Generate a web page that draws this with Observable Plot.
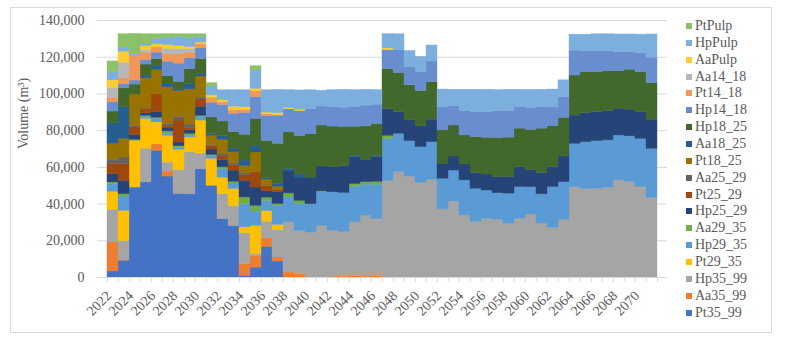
<!DOCTYPE html>
<html><head><meta charset="utf-8">
<script src="https://cdn.jsdelivr.net/npm/d3@7"></script>
<script src="https://cdn.jsdelivr.net/npm/@observablehq/plot@0.6"></script>
<style>
body{margin:0;background:#fff;}
#wrap{position:relative;width:787px;height:344px;overflow:hidden;font-family:'Liberation Serif','Times New Roman',serif;}
#border{position:absolute;left:10px;top:7px;width:762px;height:326px;border:1px solid #d9d9d9;box-sizing:border-box;}
#wrap svg{position:absolute;left:0;top:0;}
.leg{position:absolute;left:686px;height:17px;display:flex;align-items:center;font-size:14px;color:#595959;white-space:nowrap;}
.leg i{display:inline-block;width:6px;height:6px;margin-right:3px;}
</style></head><body><div id="wrap"><div id="border"></div></div>
<script>
const years = [2022,2023,2024,2025,2026,2027,2028,2029,2030,2031,
  2032,2033,2034,2035,2036,2037,2038,2039,2040,2041,
  2042,2043,2044,2045,2046,2047,2048,2049,2050,2051,
  2052,2053,2054,2055,2056,2057,2058,2059,2060,2061,
  2062,2063,2064,2065,2066,2067,2068,2069,2070,2071];
const tickYears = [2022,2024,2026,2028,2030,2032,2034,2036,2038,2040,2042,2044,2046,2048,2050,2052,2054,2056,2058,2060,2062,2064,2066,2068,2070];
const yTicks = [0,20000,40000,60000,80000,100000,120000,140000];

// stack order: bottom first
const seriesNames = ["Pt35_99","Aa35_99","Hp35_99","Pt29_35","Hp29_35","Aa29_35","Hp25_29","Pt25_29","Aa25_29","Pt18_25","Aa18_25","Hp18_25","Hp14_18","Pt14_18","Aa14_18","AaPulp","HpPulp","PtPulp"];
const colors = ["#4472C4","#ED7D31","#A5A5A5","#FFC000","#5B9BD5","#70AD47","#264478","#9E480E","#636363","#997300","#255E91","#43682B","#698ED0","#F1975A","#B7B7B7","#FFCD33","#7CAFDD","#8CC168"];

const Pt35_99 = [3300,9100,49000,51800,69000,55000,45500,45300,59000,50000,
  31800,28000,900,5400,16700,8700,0,0,0,0,
  0,0,0,0,0,0,0,0,0,0, 0,0,0,0,0,0,0,0,0,0, 0,0,0,0,0,0,0,0,0,0];
const Aa35_99 = [15800,300,0,0,3500,2700,0,0,0,0,
  0,0,6400,6400,4700,2200,2700,1800,0,0,
  500,500,900,500,900,0,0,0,0,0,
  0,0,0,0,0,0,0,0,0,0, 0,0,0,0,0,0,0,0,0,0];
const Hp35_99 = [17800,10500,0,18400,0,4900,13000,23000,8500,0,
  13600,10900,16700,900,9000,14900,27300,23600,24500,28200,
  25000,24200,29100,33200,30900,52700,57400,55000,51600,53200,
  37100,41400,33800,30200,32000,31400,29300,32000,34300,29300,
  27100,31400,49200,48300,48300,48900,52900,52000,49200,43200];
const Pt29_35 = [9800,16400,25500,16300,12000,14500,11000,8000,18000,14700,
  9000,9300,3300,15400,5800,2900,0,0,0,0,
  0,0,0,0,0,0,0,0,0,0, 0,0,0,0,0,0,0,0,0,0, 0,0,0,0,0,0,0,0,0,0];
const Hp29_35 = [4200,7800,0,1000,2000,1000,1000,1000,2000,1500,
  4600,3000,12700,7800,5500,10400,13600,14500,15400,18200,
  20900,21300,19400,16900,18700,22700,20900,19300,19400,20500,
  16700,16900,19100,18200,15400,14500,16400,17300,14900,16000,
  22200,20500,23600,25400,26000,25800,24500,24900,26300,26900];
const Aa29_35 = [900,1300,500,500,500,1500,1000,1000,500,500,
  1000,1000,3600,3100,1800,900,2200,1800,0,500,
  0,0,1500,1300,1600,1800,0,0,0,0,
  0,0,0,0,0,0,0,0,0,0, 0,0,0,0,0,0,0,0,0,0];
const Hp25_29 = [4600,7300,2500,1500,3000,2000,2000,2000,5000,3000,
  4000,6000,9100,10000,3600,6400,12000,12700,14500,13600,
  13600,14700,14500,12200,13300,14500,11800,11300,11300,12200,
  8200,7600,8700,8500,8700,8700,9100,10900,9400,11600,
  10900,14000,15400,15800,15800,16000,14500,14500,14500,15800];
const Pt25_29 = [5500,9100,4500,2000,10000,1000,12000,1000,4000,2000,
  2000,3000,3000,8200,2700,1300,0,0,0,0,
  0,0,0,0,0,0,0,0,0,0, 0,0,0,0,0,0,0,0,0,0, 0,0,0,0,0,0,0,0,0,0];
const Aa25_29 = [2200,3600,700,500,0,1000,2000,2000,1000,500,
  1000,1000,1000,0,0,0,0,0,0,0,
  0,0,0,0,0,0,0,0,0,0, 0,0,0,0,0,0,0,0,0,0, 0,0,0,0,0,0,0,0,0,0];
const Pt18_25 = [8700,10200,16900,16500,13000,20000,14000,19200,11500,5000,
  8000,6000,4000,10900,3600,1800,0,0,0,0,
  0,0,0,0,0,0,0,0,0,0, 0,0,0,0,0,0,0,0,0,0, 0,0,0,0,0,0,0,0,0,0];
const Aa18_25 = [11200,17400,0,1500,2000,2000,1000,3000,1500,1000,
  2000,2000,3000,3700,900,1500,1300,1800,0,0,
  0,0,900,0,900,0,0,0,0,0,
  0,0,0,0,0,0,0,0,0,0, 0,0,0,0,0,0,0,0,0,0];
const Hp18_25 = [6400,10000,5500,6000,4000,4000,4000,8000,8000,9000,
  8000,9000,14000,14600,20100,21800,20000,20900,23600,22300,
  22200,21300,15800,18200,17300,21800,21300,19100,19300,20500,
  18200,16900,15800,19600,20000,21400,21400,20900,21800,24200,
  22200,21100,21800,22300,21800,21600,20500,21800,21800,20000];
const Hp14_18 = [5100,2200,2200,2500,3500,8000,10000,6000,6000,8000,
  9000,10000,12000,11800,13600,15400,12500,13600,13600,10400,
  10500,10500,10900,11300,10500,10400,12400,10000,10400,11300,
  12400,10400,13300,13600,14000,14500,14500,11800,12000,11800,
  10200,11300,13600,11400,11300,10900,10400,9600,10500,13800];
const Pt14_18 = [2400,3300,13600,4000,3000,4000,5000,3000,2000,2500,
  1500,2000,1500,3300,900,0,0,0,0,0,
  0,0,0,0,0,0,0,0,0,0, 0,0,0,0,0,0,0,0,0,0, 0,0,0,0,0,0,0,0,0,0];
const Aa14_18 = [5500,8500,0,1500,0,3000,3000,2000,0,500,
  0,0,0,0,0,0,0,0,0,0, 0,0,0,0,0,0,0,0,0,0,
  0,0,0,0,0,0,0,0,0,0, 0,0,0,0,0,0,0,0,0,0];
const AaPulp = [4000,6000,0,2000,1500,2000,1500,1000,1000,1000,
  1000,1800,1500,1300,900,1300,700,700,0,0,
  0,0,0,0,0,900,0,0,0,0,
  0,0,0,0,0,0,0,0,0,0, 0,0,0,0,0,0,0,0,0,0];
const HpPulp = [4500,2200,900,1500,3000,4000,5000,5000,3000,4900,
  5500,9000,9300,10000,12200,12700,9800,10500,10400,8500,
  9400,9800,9100,8700,8000,7800,8700,8700,8200,8700,
  9800,9100,11600,12200,12200,11600,11600,9400,9800,9400,
  9800,9100,8700,9100,9300,9300,9600,9600,10000,12700];
const PtPulp = [5800,7300,10900,5000,2500,2000,1500,2000,1500,1800,
  0,0,0,2300,0,0,0,0,0,0,
  0,0,0,0,0,0,0,0,0,0, 0,0,0,0,0,0,0,0,0,0, 0,0,0,0,0,0,0,0,0,0];

const seriesValues = [Pt35_99,Aa35_99,Hp35_99,Pt29_35,Hp29_35,Aa29_35,Hp25_29,Pt25_29,Aa25_29,Pt18_25,Aa18_25,Hp18_25,Hp14_18,Pt14_18,Aa14_18,AaPulp,HpPulp,PtPulp];

const table = [];
seriesNames.forEach((name, s) => {
  seriesValues[s].forEach((v, i) => { if (v > 0) table.push({year: years[i], series: name, value: v}); });
});

const mL = 97, mR = 120, W = 787;
const bw = (W - mL - mR) / years.length;

const chart = Plot.plot({
  width: W, height: 344,
  marginLeft: mL, marginRight: mR, marginTop: 20, marginBottom: 67,
  style: {fontFamily: "'Liberation Serif','Times New Roman',serif", fontSize: "14px", color: "#595959", background: "transparent", overflow: "visible"},
  x: {type: "band", domain: years, padding: 0},
  y: {domain: [0, 140000]},
  color: {domain: seriesNames, range: colors},
  marks: [
    Plot.ruleY(yTicks.filter(d => d > 0), {stroke: "#d9d9d9", strokeWidth: 1, strokeOpacity: 1}),
    Plot.barY(table, Plot.stackY({x: "year", y: "value", fill: "series", stroke: "series", strokeWidth: 0.4, order: seriesNames})),
    Plot.ruleY([0], {stroke: "#d9d9d9", strokeOpacity: 1}),
    Plot.ruleX(years, {x: d => d, dx: -bw / 2, y1: 0, y2: -2700, stroke: "#d9d9d9", strokeOpacity: 1}),
    Plot.ruleX([years[years.length - 1]], {x: d => d, dx: bw / 2, y1: 0, y2: -2700, stroke: "#d9d9d9", strokeOpacity: 1}),
    Plot.axisX({ticks: tickYears, tickSize: 0, tickPadding: 16, tickRotate: -45, dx: -4, tickFormat: d => String(d), label: null}),
    Plot.axisY({ticks: yTicks, tickSize: 0, tickPadding: 13, tickFormat: d3.format(","), label: null}),
    Plot.text(["Volume (m³)"], {text: d => d, frameAnchor: "left", dx: -74, rotate: -90, fontSize: 14, fill: "#595959"})
  ]
});
const wrap = document.getElementById("wrap");
wrap.appendChild(chart);

// legend (top to bottom = reverse stack order)
const legendNames = seriesNames.slice().reverse();
const legendColors = colors.slice().reverse();
legendNames.forEach((n, i) => {
  const d = document.createElement("div");
  d.className = "leg";
  d.style.top = (26 + i * 16.86 - 8.5) + "px";
  d.innerHTML = `<i style="background:${legendColors[i]}"></i>${n}`;
  wrap.appendChild(d);
});
</script>
</body></html>
